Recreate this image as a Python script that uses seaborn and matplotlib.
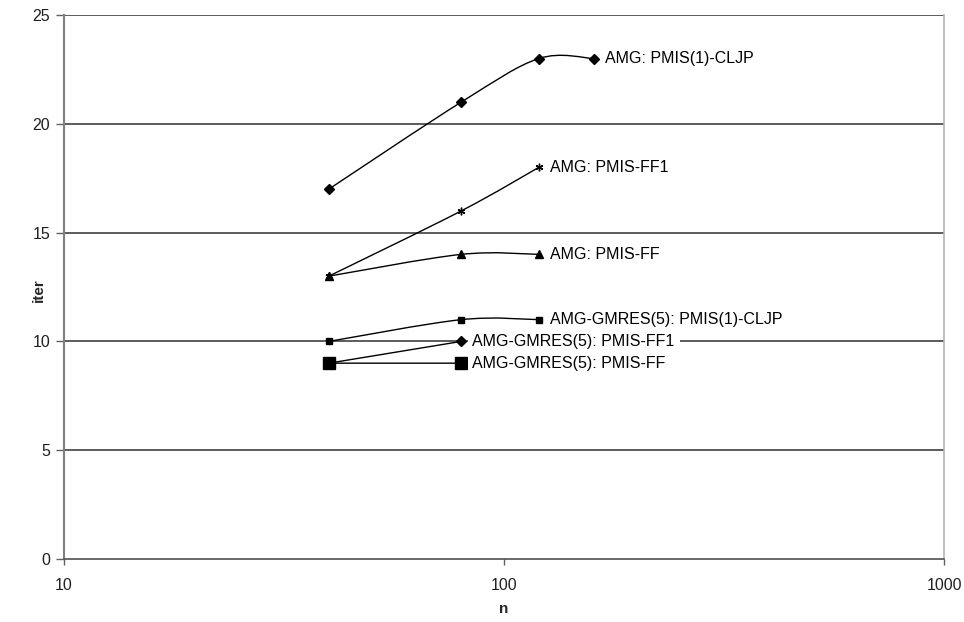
import numpy as np
import matplotlib
matplotlib.use("Agg")
import matplotlib.pyplot as plt
from matplotlib.path import Path
from matplotlib.patches import PathPatch
import seaborn as sns

# Iteration counts vs problem size n for each solver / coarsening combination
series_names = [
    "AMG: PMIS(1)-CLJP",
    "AMG: PMIS-FF1",
    "AMG: PMIS-FF",
    "AMG-GMRES(5): PMIS(1)-CLJP",
    "AMG-GMRES(5): PMIS-FF1",
    "AMG-GMRES(5): PMIS-FF",
]
n_amg_cljp = [40, 80, 120, 160]
it_amg_cljp = [17, 21, 23, 23]
n_amg_ff1 = [40, 80, 120]
it_amg_ff1 = [13, 16, 18]
n_amg_ff = [40, 80, 120]
it_amg_ff = [13, 14, 14]
n_gm_cljp = [40, 80, 120]
it_gm_cljp = [10, 11, 11]
n_gm_ff1 = [40, 80]
it_gm_ff1 = [9, 10]
n_gm_ff = [40, 80]
it_gm_ff = [9, 9]

y_ticks = [0, 5, 10, 15, 20, 25]
x_ticks = [10, 100, 1000]

series = [
    (n_amg_cljp, it_amg_cljp, "D", 5.5),
    (n_amg_ff1, it_amg_ff1, (6, 2, 0), 5.5),
    (n_amg_ff, it_amg_ff, "^", 6),
    (n_gm_cljp, it_gm_cljp, "s", 5),
    (n_gm_ff1, it_gm_ff1, "D", 5.5),
    (n_gm_ff, it_gm_ff, "s", 8),
]

sns.set_theme(style="white")
plt.rcParams["font.family"] = ["Liberation Sans", "DejaVu Sans"]

fig = plt.figure(figsize=(9.64, 6.22), dpi=100)
ax = fig.add_axes([64 / 964, 63 / 622, 880 / 964, 544 / 622])
ax.set_xscale("log")
ax.set_xlim(10, 1000)
ax.set_ylim(0, 25)


def smooth_path(xs, ys):
    """Smoothed line through the points (Catmull-Rom style Bezier in log-x space)."""
    u = np.log10(np.asarray(xs, float))
    v = np.asarray(ys, float)
    pts = np.column_stack([u, v])
    verts = [pts[0]]
    codes = [Path.MOVETO]
    k = len(pts)
    for i in range(k - 1):
        p0 = pts[max(i - 1, 0)]
        p1 = pts[i]
        p2 = pts[i + 1]
        p3 = pts[min(i + 2, k - 1)]
        c1 = p1 + (p2 - p0) / 6.0
        c2 = p2 - (p3 - p1) / 6.0
        verts += [c1, c2, p2]
        codes += [Path.CURVE4] * 3
    verts = np.array(verts)
    verts[:, 0] = 10 ** verts[:, 0]
    return Path(verts, codes)


for xs, ys, mk, ms in series:
    ax.add_patch(PathPatch(smooth_path(xs, ys), facecolor="none",
                           edgecolor="black", lw=1.0, zorder=3))

for (xs, ys, mk, ms), name in zip(series, series_names):
    sns.lineplot(x=xs, y=ys, ax=ax, marker=mk, markersize=ms, linestyle="none",
                 color="black", markeredgecolor="black", markeredgewidth=1.0,
                 zorder=4, legend=False)
    ax.annotate(name, xy=(xs[-1], ys[-1]), xytext=(8, 0), textcoords="offset points",
                va="center", ha="left", fontsize=11.5, color="black", zorder=5,
                bbox=dict(boxstyle="square,pad=0.3", fc="white", ec="none"))

# Horizontal gridlines
for yv in y_ticks[1:]:
    ax.axhline(yv, color="#303030", lw=1.1, zorder=1)

ax.set_yticks(y_ticks)
ax.set_xticks(x_ticks)
ax.set_xticklabels([str(v) for v in x_ticks])
ax.xaxis.set_minor_locator(matplotlib.ticker.NullLocator())
ax.tick_params(axis="y", which="major", direction="out", length=6, width=1,
               color="#606060", labelsize=11.5, labelcolor="#202020", pad=4, left=True)
ax.tick_params(axis="x", which="major", direction="out", length=4, width=1,
               color="#606060", labelsize=11.5, labelcolor="#202020", pad=10, bottom=True)

ax.grid(False)
ax.spines["top"].set_visible(False)
ax.spines["left"].set_color("#808080")
ax.spines["left"].set_linewidth(1.5)
ax.spines["bottom"].set_color("#505050")
ax.spines["bottom"].set_linewidth(1.2)
ax.spines["right"].set_color("#b4b4b4")
ax.spines["right"].set_linewidth(1.2)

ax.set_xlabel("n", fontsize=11, fontweight="bold", va="center")
ax.set_ylabel("iter", fontsize=11, fontweight="bold", va="center")
ax.xaxis.set_label_coords(0.5, -0.092)
ax.yaxis.set_label_coords(-0.029, 0.494)

fig.savefig("out.png", dpi=100, facecolor="white")
